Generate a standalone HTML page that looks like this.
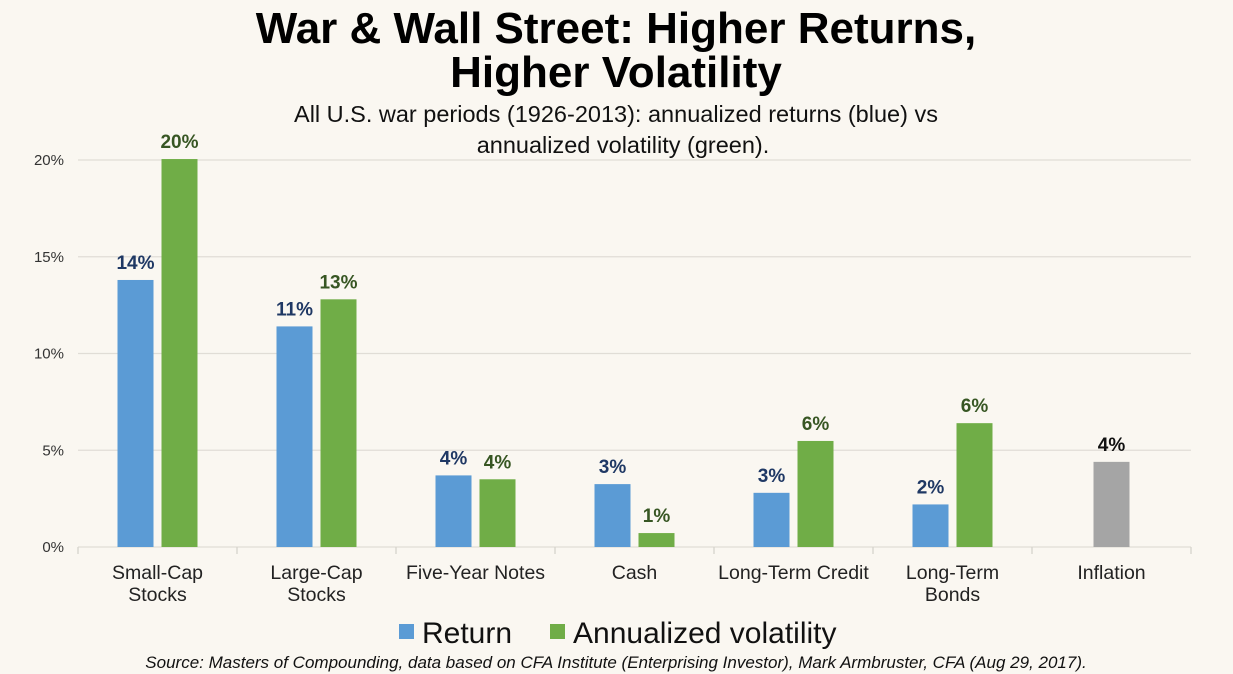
<!DOCTYPE html>
<html><head><meta charset="utf-8"><style>
body{margin:0;background:#faf7f1;font-family:"Liberation Sans",sans-serif;}
#wrap{position:relative;width:1233px;height:674px;overflow:hidden;background:#faf7f1;}
</style></head><body>
<div id="wrap">
<svg id="svg" width="1233" height="674">
<text x="616" y="43" text-anchor="middle" font-size="44" font-weight="bold" fill="#000">War &amp; Wall Street: Higher Returns,</text>
<text x="616" y="87" text-anchor="middle" font-size="44" font-weight="bold" fill="#000">Higher Volatility</text>
<text x="616" y="122" text-anchor="middle" font-size="23.5" fill="#111">All U.S. war periods (1926-2013): annualized returns (blue) vs</text>
<text x="623" y="153" text-anchor="middle" font-size="23.5" fill="#111">annualized volatility (green).</text>
<g id="grid"></g><g id="bars"></g><g id="labels"></g>
<rect x="399" y="624" width="15" height="15" fill="#5b9bd5"/>
<text x="422" y="643" font-size="30" fill="#111">Return</text>
<rect x="550" y="624" width="15" height="15" fill="#70ad47"/>
<text x="573" y="643" font-size="30" fill="#111">Annualized volatility</text>
<text x="616" y="668" text-anchor="middle" font-size="17" font-style="italic" fill="#111">Source: Masters of Compounding, data based on CFA Institute (Enterprising Investor), Mark Armbruster, CFA (Aug 29, 2017).</text>
</svg>
</div>
<script>
const categories=[["Small-Cap","Stocks"],["Large-Cap","Stocks"],["Five-Year Notes"],["Cash"],["Long-Term Credit"],["Long-Term","Bonds"],["Inflation"]];
const returns=[13.8,11.4,3.7,3.25,2.8,2.2,null];
const volatility=[20.05,12.8,3.5,0.72,5.48,6.4,null];
const inflation=[null,null,null,null,null,null,4.4];
const returnLabels=["14%","11%","4%","3%","3%","2%",null];
const volLabels=["20%","13%","4%","1%","6%","6%",null];
const inflLabels=[null,null,null,null,null,null,"4%"];
const yTicks=[0,5,10,15,20];
const yTickLabels=["0%","5%","10%","15%","20%"];
const NS="http://www.w3.org/2000/svg";
const x0=78,x1=1191,y0=547,pxPer=(547-160)/20;
const cw=(x1-x0)/categories.length;
const y=v=>y0-v*pxPer;
const cx=i=>x0+cw*(i+0.5);
function mk(t,a,p){const e=document.createElementNS(NS,t);for(const k in a)e.setAttribute(k,a[k]);p.appendChild(e);return e;}
const grid=document.getElementById('grid'),bars=document.getElementById('bars'),labels=document.getElementById('labels');
yTicks.forEach((t,i)=>{
 const l=mk('line',{x1:x0,x2:x1,y1:y(t),y2:y(t),stroke:'#e0ddd6','stroke-width':1.3},grid);
 
 
 const tx=mk('text',{x:64,y:y(t)+5,'text-anchor':'end','font-size':15,fill:'#333'},grid);
 tx.textContent=yTickLabels[i];
 
 
});
for(let i=0;i<=categories.length;i++){
 const l=mk('line',{x1:x0+cw*i,x2:x0+cw*i,y1:y0,y2:y0+7,stroke:'#d6d3cc','stroke-width':1.3},grid);
 
 
}
categories.forEach((c,i)=>{
 c.forEach((line,j)=>{
  const t=mk('text',{x:cx(i),y:579+j*22,'text-anchor':'middle','font-size':19.5,fill:'#222'},labels);
  t.textContent=line;
  
  
 });
});
const bw=36;
function bar(v,xl,color,lab,lc,name){
 if(v==null)return;
 const r=mk('rect',{x:xl,y:y(v),width:bw,height:y0-y(v),fill:color},bars);
 
 
 if(lab){const t=mk('text',{x:xl+bw/2,y:y(v)-11,'text-anchor':'middle','font-size':19,'font-weight':'bold',fill:lc},labels);
 t.textContent=lab;
 
 }
}
categories.forEach((c,i)=>{
 bar(returns[i],cx(i)-40,'#5b9bd5',returnLabels[i],'#1f3864','bar-return-'+i);
 bar(volatility[i],cx(i)+4,'#70ad47',volLabels[i],'#375623','bar-volatility-'+i);
 bar(inflation[i],cx(i)-18,'#a5a5a5',inflLabels[i],'#111','bar-inflation-'+i);
});
</script>
</body></html>
